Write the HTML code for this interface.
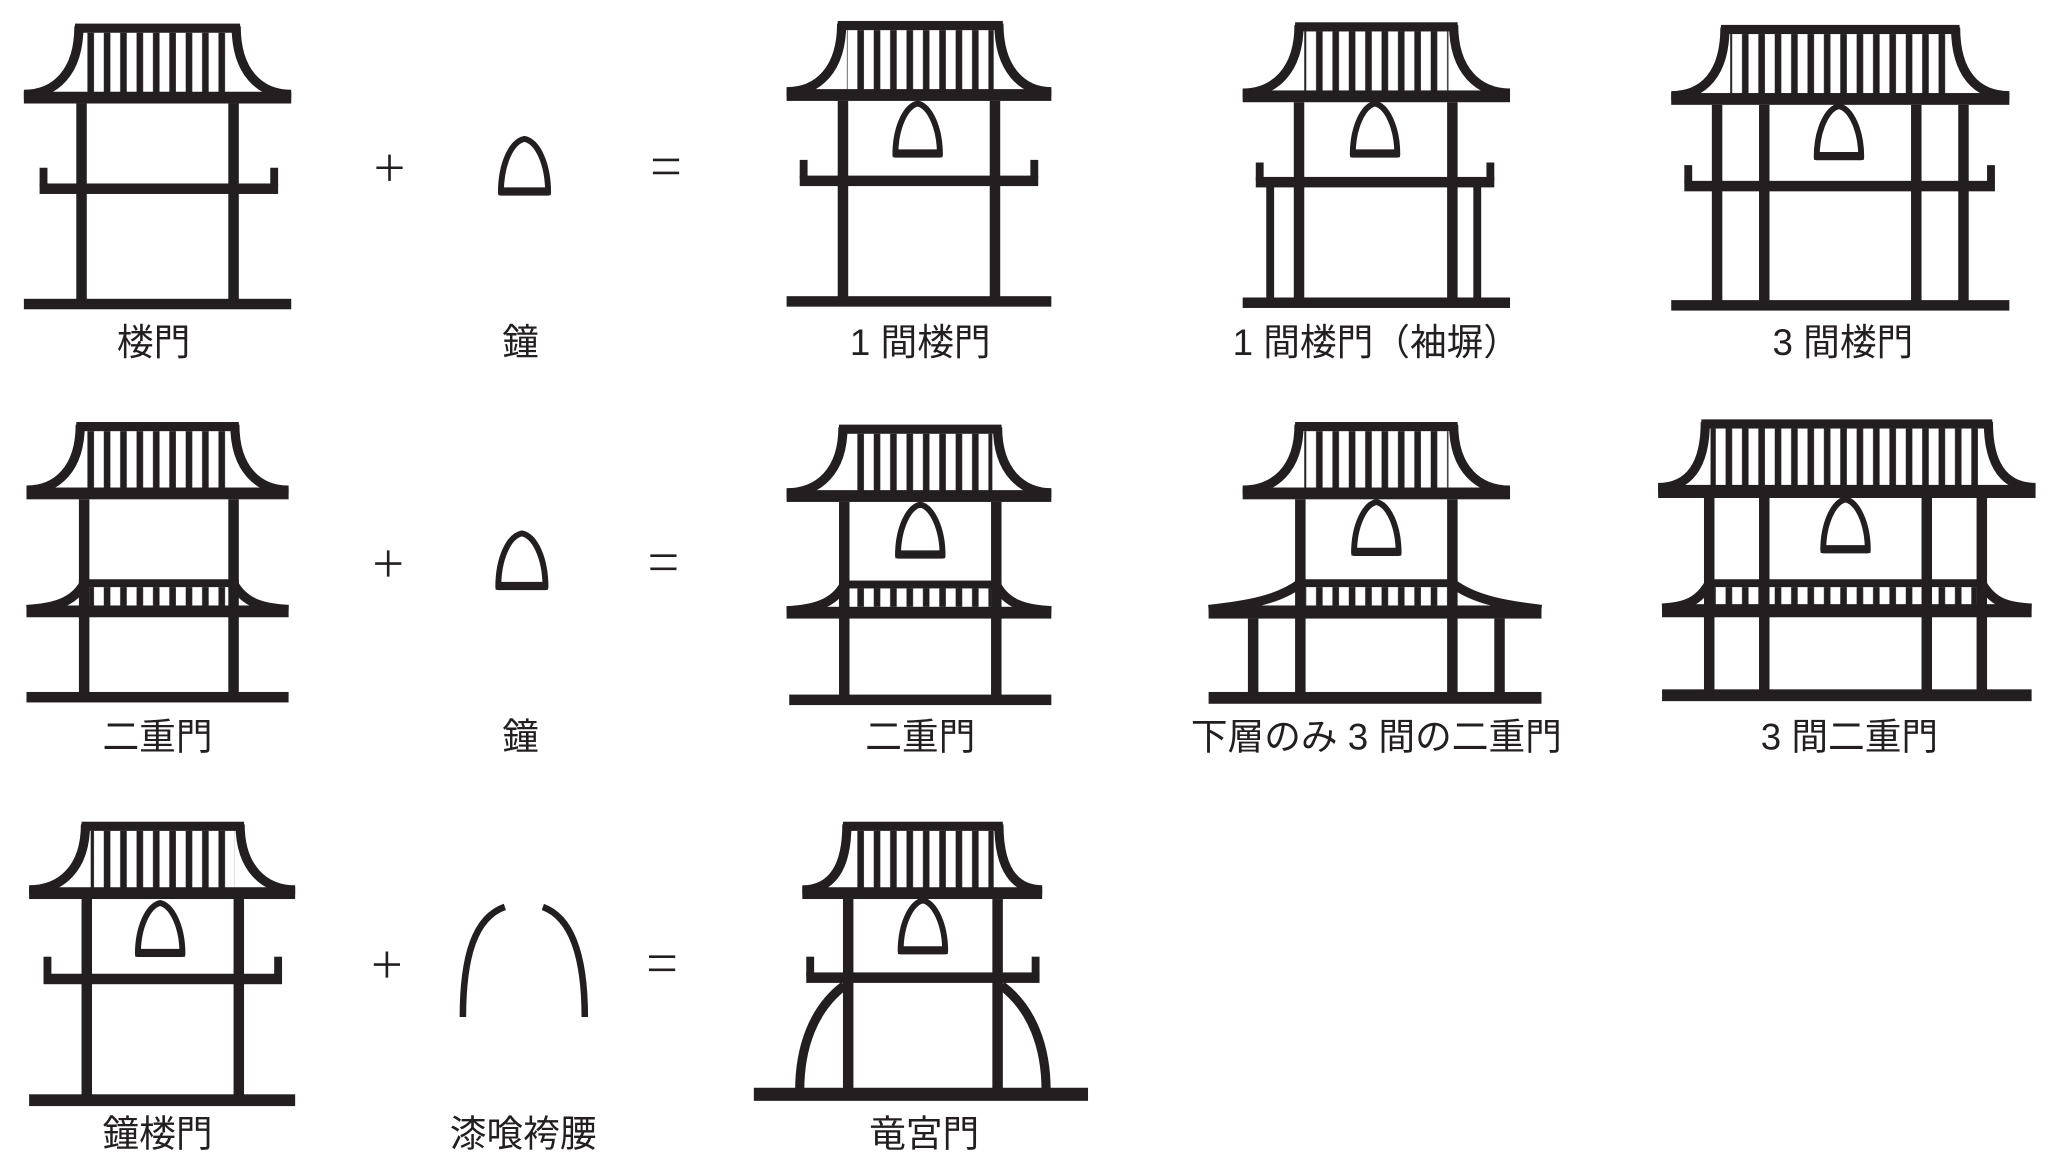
<!DOCTYPE html>
<html><head><meta charset="utf-8"><style>
html,body{margin:0;padding:0;background:#fff;width:2045px;height:1169px;overflow:hidden}
svg{display:block}
text{font-family:"Liberation Sans","Noto Sans CJK JP",sans-serif;font-size:28px;fill:#231f20;text-anchor:middle}
</style></head><body>
<svg width="2045" height="1169" viewBox="0 0 1560 892" xmlns="http://www.w3.org/2000/svg">
<defs>
<pattern id="s" patternUnits="userSpaceOnUse" width="12.5" height="10" x="0" y="0"><rect x="4" y="0" width="5" height="10" fill="#231f20"/></pattern>
</defs>
<g fill="#231f20" stroke="none">
<!-- Gate A 楼門 -->
<rect x="57" y="18" width="126" height="7"/>
<rect x="64" y="25" width="112" height="46" fill="url(#s)"/>
<path d="M60,20 C60,55 42,72 18,72 M180,20 C180,55 198,72 222,72" stroke="#231f20" stroke-width="7" fill="none"/>
<rect x="18" y="70" width="204" height="9"/>
<rect x="58" y="79" width="8" height="150"/><rect x="174" y="79" width="8" height="150"/>
<rect x="30" y="140" width="182" height="8"/><rect x="30" y="128" width="6" height="14"/><rect x="206" y="128" width="6" height="14"/>
<rect x="18" y="228" width="204" height="8"/>

<!-- Gate B 1間楼門 -->
<rect x="639" y="16" width="126" height="7"/>
<rect x="646" y="23" width="112" height="46" fill="url(#s)"/>
<path d="M642,18 C642,53 624,70 600,70 M762,18 C762,53 780,70 802,70" stroke="#231f20" stroke-width="7" fill="none"/>
<rect x="600" y="68" width="202" height="9"/>
<rect x="639" y="77" width="8" height="150"/><rect x="755" y="77" width="8" height="150"/>
<rect x="610" y="134" width="182" height="8"/><rect x="610" y="122" width="6" height="14"/><rect x="786" y="122" width="6" height="14"/>
<rect x="600" y="226" width="202" height="8"/>

<!-- Gate C 袖塀 -->
<rect x="988" y="17" width="124" height="7"/>
<rect x="995" y="24" width="110" height="46" fill="url(#s)"/>
<path d="M991,19 C991,54 972,71 948,71 M1109,19 C1109,54 1128,71 1152,71" stroke="#231f20" stroke-width="7" fill="none"/>
<rect x="948" y="69" width="204" height="9"/>
<rect x="987" y="78" width="8" height="150"/><rect x="1104" y="78" width="8" height="150"/>
<rect x="966" y="142" width="6" height="86"/><rect x="1124" y="142" width="6" height="86"/>
<rect x="958" y="135" width="182" height="8"/><rect x="958" y="124" width="6" height="14"/><rect x="1134" y="124" width="6" height="14"/>
<rect x="948" y="227" width="204" height="8"/>

<!-- Gate D 3間楼門 -->
<rect x="1313" y="19" width="182" height="7"/>
<rect x="1320" y="26" width="168" height="47" fill="url(#s)"/>
<path d="M1316,21 C1316,56 1300,73 1275,73 M1492,21 C1492,56 1508,73 1533,73" stroke="#231f20" stroke-width="7" fill="none"/>
<rect x="1275" y="71" width="258" height="9"/>
<rect x="1306" y="80" width="8" height="150"/><rect x="1342" y="80" width="8" height="150"/><rect x="1458" y="80" width="8" height="150"/><rect x="1494" y="80" width="8" height="150"/>
<rect x="1285" y="138" width="237" height="8"/><rect x="1285" y="126" width="6" height="14"/><rect x="1516" y="126" width="6" height="14"/>
<rect x="1275" y="229" width="258" height="8"/>

<!-- Gate E 二重門 -->
<rect x="58" y="322" width="124" height="7"/>
<rect x="65" y="329" width="110" height="45" fill="url(#s)"/>
<path d="M61,324 C61,358 43,374 20,374 M179,324 C179,358 197,374 220,374" stroke="#231f20" stroke-width="7" fill="none"/>
<rect x="20" y="372" width="200" height="9"/>
<rect x="60" y="381" width="8" height="150"/><rect x="174" y="381" width="8" height="150"/>
<rect x="60" y="442" width="122" height="6"/>
<rect x="68" y="448" width="106" height="14" fill="url(#s)"/>
<path d="M64,445 C56,460 40,464 20,465 M178,445 C186,460 200,464 220,465" stroke="#231f20" stroke-width="7" fill="none"/>
<rect x="20" y="462" width="200" height="9"/>
<rect x="20" y="528" width="200" height="8"/>

<!-- Gate F 二重門 with bell -->
<rect x="640" y="324" width="124" height="7"/>
<rect x="647" y="331" width="110" height="45" fill="url(#s)"/>
<path d="M643,326 C643,360 624,376 600,376 M761,326 C761,360 780,376 802,376" stroke="#231f20" stroke-width="7" fill="none"/>
<rect x="600" y="374" width="202" height="9"/>
<rect x="640" y="383" width="8" height="150"/><rect x="756" y="383" width="8" height="150"/>
<rect x="640" y="443" width="124" height="6"/>
<rect x="648" y="449" width="108" height="14" fill="url(#s)"/>
<path d="M644,446 C636,461 620,465 600,466 M760,446 C768,461 782,465 802,466" stroke="#231f20" stroke-width="7" fill="none"/>
<rect x="600" y="463" width="202" height="9"/>
<rect x="602" y="530" width="200" height="8"/>

<!-- Gate G 下層のみ3間 -->
<rect x="988" y="322" width="124" height="7"/>
<rect x="995" y="329" width="110" height="45" fill="url(#s)"/>
<path d="M991,324 C991,358 972,374 948,374 M1109,324 C1109,358 1128,374 1152,374" stroke="#231f20" stroke-width="7" fill="none"/>
<rect x="948" y="372" width="204" height="9"/>
<rect x="988" y="381" width="8" height="150"/><rect x="1104" y="381" width="8" height="150"/>
<rect x="988" y="442" width="124" height="6"/>
<rect x="996" y="448" width="108" height="14" fill="url(#s)"/>
<path d="M992,445 C975,458 950,462 922,465 M1108,445 C1125,458 1150,462 1176,465" stroke="#231f20" stroke-width="7" fill="none"/>
<rect x="922" y="462" width="254" height="10"/>
<rect x="952" y="472" width="8" height="58"/><rect x="1140" y="472" width="8" height="58"/>
<rect x="922" y="528" width="254" height="9"/>

<!-- Gate H 3間二重門 -->
<rect x="1298" y="320" width="222" height="7"/>
<rect x="1305" y="327" width="208" height="45" fill="url(#s)"/>
<path d="M1301,322 C1301,356 1288,372 1265,372 M1517,322 C1517,356 1530,372 1553,372" stroke="#231f20" stroke-width="7" fill="none"/>
<rect x="1265" y="370" width="288" height="10"/>
<rect x="1300" y="380" width="8" height="148"/><rect x="1342" y="380" width="8" height="148"/><rect x="1466" y="380" width="8" height="148"/><rect x="1508" y="380" width="8" height="148"/>
<rect x="1300" y="442" width="216" height="6"/>
<rect x="1308" y="448" width="200" height="14" fill="url(#s)"/>
<path d="M1304,445 C1296,459 1286,463 1268,464 M1512,445 C1520,459 1530,463 1550,464" stroke="#231f20" stroke-width="7" fill="none"/>
<rect x="1268" y="461" width="282" height="10"/>
<rect x="1268" y="526" width="282" height="9"/>

<!-- Gate I 鐘楼門 -->
<rect x="62" y="627" width="124" height="7"/>
<rect x="69" y="634" width="110" height="45" fill="url(#s)"/>
<path d="M65,629 C65,663 46,679 22,679 M183,629 C183,663 202,679 225,679" stroke="#231f20" stroke-width="7" fill="none"/>
<rect x="22" y="677" width="203" height="9"/>
<rect x="62" y="686" width="8" height="150"/><rect x="178" y="686" width="8" height="150"/>
<rect x="33" y="743" width="182" height="8"/><rect x="33" y="730" width="6" height="15"/><rect x="209" y="730" width="6" height="15"/>
<rect x="22" y="835" width="203" height="9"/>

<!-- Gate J 竜宮門 -->
<rect x="643" y="627" width="122" height="7"/>
<rect x="650" y="634" width="108" height="45" fill="url(#s)"/>
<path d="M646,629 C646,663 634,679 612,679 M762,629 C762,663 774,679 795,679" stroke="#231f20" stroke-width="7" fill="none"/>
<rect x="612" y="677" width="183" height="9"/>
<rect x="643" y="686" width="8" height="145"/><rect x="757" y="686" width="8" height="145"/>
<rect x="615" y="742" width="178" height="8"/><rect x="615" y="730" width="6" height="15"/><rect x="787" y="730" width="6" height="15"/>
<path d="M644,752 C620,770 610,800 610,832 M764,752 C788,770 798,800 798,832" stroke="#231f20" stroke-width="7" fill="none"/>
<rect x="575" y="830" width="255" height="10"/>
</g>

<!-- bells -->
<g stroke="#231f20" stroke-width="4.5" fill="none" stroke-linejoin="round">
<path d="M382,147 C382,125 390,108 400,106 C410,108 418,125 418,147 Z"/>
<path d="M683,118 C683,97 691,81 700,79 C709,81 717,97 717,118 Z"/>
<path d="M1032,118 C1032,97 1040,81 1049,79 C1058,81 1066,97 1066,118 Z"/>
<path d="M1386,120 C1386,99 1394,83 1403,81 C1412,83 1420,99 1420,120 Z"/>
<path d="M380,448 C380,426 388,409 398,407 C408,409 416,426 416,448 Z"/>
<path d="M685,424 C685,403 693,387 702,385 C711,387 719,403 719,424 Z"/>
<path d="M1033,422 C1033,401 1041,385 1050,383 C1059,385 1067,401 1067,422 Z"/>
<path d="M1391,420 C1391,399 1399,383 1408,381 C1417,383 1425,399 1425,420 Z"/>
<path d="M105,728 C105,707 113,691 122,689 C131,691 139,707 139,728 Z"/>
<path d="M687,726 C687,705 695,689 704,687 C713,689 721,705 721,726 Z"/>
</g>
<g stroke="#231f20" stroke-width="6" fill="none">
<line x1="380" y1="146" x2="420" y2="146"/><line x1="681" y1="117" x2="719" y2="117"/><line x1="1030" y1="117" x2="1068" y2="117"/><line x1="1384" y1="119" x2="1422" y2="119"/>
<line x1="378" y1="447" x2="418" y2="447"/><line x1="683" y1="423" x2="721" y2="423"/><line x1="1031" y1="421" x2="1069" y2="421"/><line x1="1389" y1="419" x2="1427" y2="419"/>
<line x1="103" y1="727" x2="141" y2="727"/><line x1="685" y1="725" x2="723" y2="725"/>
</g>
<!-- hakama arcs -->
<path d="M353,776 C353,730 362,700 385,692 M446,776 C446,730 436,700 414,692" stroke="#231f20" stroke-width="5" fill="none"/>

<!-- operators -->
<g stroke="#231f20" stroke-width="2" fill="none">
<path d="M287,128 H307 M297,118 V138"/>
<path d="M498,122 H518 M498,132 H518"/>
<path d="M286,430 H306 M296,420 V440"/>
<path d="M496,424 H516 M496,434 H516"/>
<path d="M285,736 H305 M295,726 V746"/>
<path d="M495,730 H515 M495,740 H515"/>
</g>

<!-- labels -->
<text x="117" y="271">楼門</text>
<text x="397" y="271">鐘</text>
<text x="702" y="271">1 間楼門</text>
<text x="1050" y="271">1 間楼門（袖塀）</text>
<text x="1406" y="271">3 間楼門</text>
<text x="120" y="572">二重門</text>
<text x="397" y="572">鐘</text>
<text x="702" y="572">二重門</text>
<text x="1050" y="572">下層のみ 3 間の二重門</text>
<text x="1411" y="572">3 間二重門</text>
<text x="120" y="875">鐘楼門</text>
<text x="399" y="875">漆喰袴腰</text>
<text x="705" y="875">竜宮門</text>
</svg>
</body></html>
